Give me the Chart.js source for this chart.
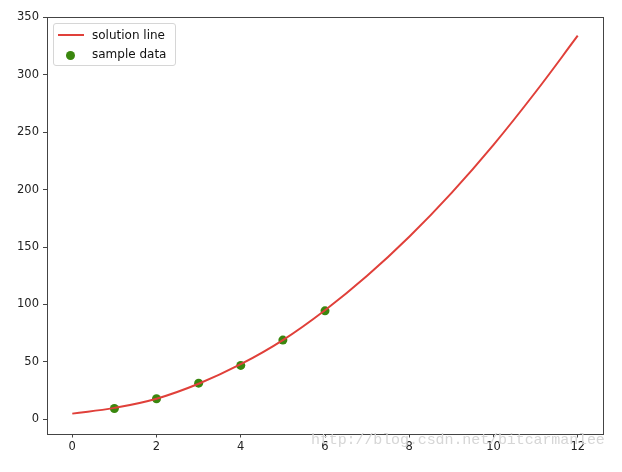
<!DOCTYPE html>
<html>
<head>
<meta charset="utf-8">
<script src="https://cdn.jsdelivr.net/npm/chart.js@4/dist/chart.umd.min.js"></script>
<style>
  html, body { margin: 0; padding: 0; background: #fff; }
  #wrap { position: relative; width: 622px; height: 472px; }
  canvas { position: absolute; left: 0; top: 0; }
  #legend {
    position: absolute; left: 53px; top: 23px; width: 121px; height: 41px;
    border: 1px solid #d6d6d6; border-radius: 3px; background: rgba(255,255,255,0.85);
    font-family: "DejaVu Sans", sans-serif; font-size: 12px; color: #111;
  }
  #legend .row { position: absolute; left: 0; height: 14px; line-height: 14px; }
  #legend .lbl { position: absolute; left: 38px; white-space: nowrap; }
  #legend .ln { position: absolute; left: 4px; top: 6px; width: 26px; height: 2px; background: #e0403a; }
  #legend .dot { position: absolute; left: 12px; top: 4px; width: 9px; height: 9px; border-radius: 50%; background: #3a870e; }
  #wm {
    position: absolute; left: 311px; top: 432px;
    font-family: "Liberation Mono", monospace; font-size: 15px; color: #d6d6d6;
    white-space: nowrap; letter-spacing: -0.1px;
  }
</style>
</head>
<body>
<div id="wrap">
  <canvas id="c" width="622" height="472"></canvas>
  <div id="legend">
    <div class="row" style="top:4px;"><div class="ln"></div><span class="lbl">solution line</span></div>
    <div class="row" style="top:23px;"><div class="dot"></div><span class="lbl">sample data</span></div>
  </div>
  <div id="wm">http://blog.csdn.net/bitcarmanlee</div>
</div>
<script>
// Solution line
const lineX = [0, 1, 2, 3, 4, 5, 6, 7, 8, 9, 10, 11, 12];
const lineY = [5, 10, 18, 31, 48, 69, 95, 125, 159, 197, 239, 285, 334];
// Sample data points
const sampleX = [1, 2, 3, 4, 5, 6];
const sampleY = [9.5, 18, 31.5, 47, 69, 94.5];
// Tick labels
const xTicks = [0, 2, 4, 6, 8, 10, 12];
const yTicks = [0, 50, 100, 150, 200, 250, 300, 350];

const frame = {
  id: 'frame',
  afterDatasetsDraw(chart) {
    const a = chart.chartArea, ctx = chart.ctx;
    ctx.save();
    ctx.strokeStyle = '#444';
    ctx.lineWidth = 1;
    ctx.strokeRect(Math.round(a.left) + 0.5, Math.round(a.top) + 0.5,
                   Math.round(a.right - a.left), Math.round(a.bottom - a.top));
    ctx.restore();
  }
};

new Chart(document.getElementById('c'), {
  type: 'scatter',
  data: {
    datasets: [
      {
        label: 'solution line',
        data: lineX.map((x, i) => ({ x: x, y: lineY[i] })),
        showLine: true,
        borderColor: '#e0403a',
        borderWidth: 2,
        pointRadius: 0,
        tension: 0.4,
        fill: false
      },
      {
        label: 'sample data',
        data: sampleX.map((x, i) => ({ x: x, y: sampleY[i] })),
        showLine: false,
        pointRadius: 4.5,
        backgroundColor: '#3a870e',
        borderWidth: 0
      }
    ]
  },
  options: {
    responsive: false,
    animation: false,
    devicePixelRatio: 1,
    layout: { padding: { left: 0, right: 19, top: 17, bottom: 0 } },
    plugins: { legend: { display: false }, tooltip: { enabled: false } },
    scales: {
      x: {
        type: 'linear', min: -0.6, max: 12.6,
        afterBuildTicks: s => { s.ticks = xTicks.map(v => ({ value: v })); },
        afterFit: s => { s.height = 38.5; },
        border: { display: false },
        grid: { drawOnChartArea: false, drawTicks: true, tickLength: 4, color: '#444' },
        ticks: { padding: 3, color: '#222', font: { family: 'DejaVu Sans', size: 11.5 }, maxRotation: 0 }
      },
      y: {
        type: 'linear', min: -12.3, max: 350.3,
        afterBuildTicks: s => { s.ticks = yTicks.map(v => ({ value: v })); },
        afterFit: s => { s.width = 47; },
        border: { display: false },
        grid: { drawOnChartArea: false, drawTicks: true, tickLength: 4, color: '#444' },
        ticks: { padding: 4, color: '#222', font: { family: 'DejaVu Sans', size: 11.5 } }
      }
    }
  },
  plugins: [frame]
});
</script>
</body>
</html>
